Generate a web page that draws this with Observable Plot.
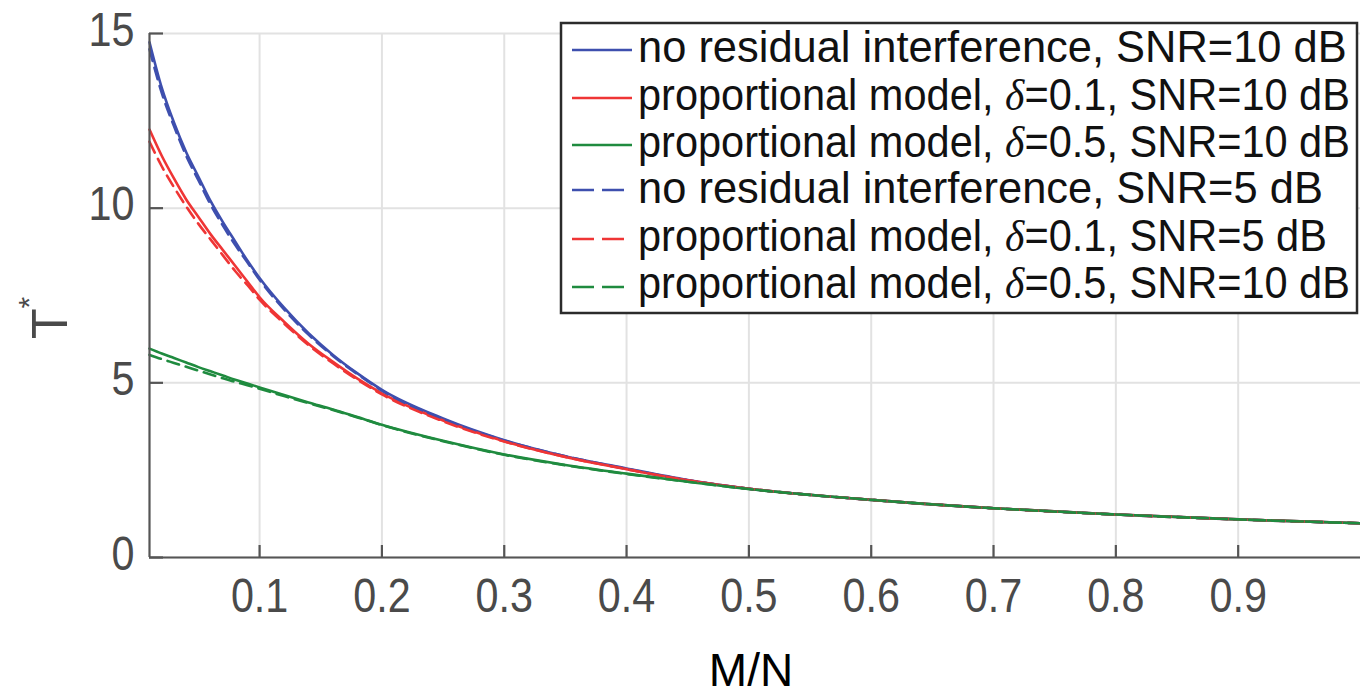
<!DOCTYPE html>
<html><head><meta charset="utf-8">
<script src="https://cdn.jsdelivr.net/npm/d3@7"></script>
<script src="https://cdn.jsdelivr.net/npm/@observablehq/plot@0.6"></script>
<style>
html,body{margin:0;padding:0;background:#fff;}
#wrap{position:relative;width:1360px;height:697px;overflow:hidden;}
#legend{position:absolute;left:0;top:0;}
</style></head><body><div id="wrap"></div>
<script>
// M/N sample points
const mn = [0.01,0.02,0.03,0.04,0.05,0.06,0.07,0.08,0.09,0.1,0.12,0.14,0.16,0.18,0.2,0.25,0.3,0.35,0.4,0.45,0.5,0.6,0.7,0.8,0.9,1.0];
// T* series
const noResid10 = [14.75,13.45,12.45,11.6,10.9,10.2,9.6,9.05,8.5,8.0,7.15,6.42,5.8,5.27,4.8,3.98,3.36,2.9,2.55,2.22,1.97,1.65,1.41,1.23,1.09,0.98];
const prop01_10 = [12.25,11.5,10.85,10.25,9.75,9.25,8.8,8.35,7.9,7.45,6.75,6.12,5.6,5.12,4.7,3.92,3.33,2.88,2.53,2.21,1.97,1.65,1.41,1.23,1.09,0.98];
const prop05_10 = [5.98,5.84,5.71,5.58,5.45,5.33,5.21,5.09,4.98,4.87,4.65,4.44,4.24,4.02,3.8,3.34,2.95,2.65,2.4,2.17,1.96,1.65,1.41,1.23,1.09,0.98];
const noResid5  = [14.55,13.3,12.35,11.5,10.8,10.1,9.5,8.95,8.45,7.95,7.1,6.38,5.77,5.25,4.78,3.96,3.35,2.9,2.54,2.21,1.97,1.65,1.41,1.23,1.09,0.98];
const prop01_5  = [11.9,11.2,10.6,10.05,9.55,9.1,8.65,8.2,7.8,7.38,6.7,6.08,5.56,5.09,4.67,3.9,3.32,2.88,2.53,2.21,1.97,1.65,1.41,1.23,1.09,0.98];
const prop05_5  = [5.8,5.68,5.57,5.46,5.35,5.24,5.13,5.03,4.93,4.83,4.62,4.42,4.22,4.01,3.79,3.33,2.94,2.64,2.39,2.17,1.96,1.65,1.41,1.23,1.09,0.98];

const xTicks = [0.1,0.2,0.3,0.4,0.5,0.6,0.7,0.8,0.9];
const yTicks = [0,5,10,15];

const labels = [
  ["no residual interference, SNR=10 dB"],
  ["proportional model, ", "δ", "=0.1, SNR=10 dB"],
  ["proportional model, ", "δ", "=0.5, SNR=10 dB"],
  ["no residual interference, SNR=5 dB"],
  ["proportional model, ", "δ", "=0.1, SNR=5 dB"],
  ["proportional model, ", "δ", "=0.5, SNR=10 dB"]
];
const colors = ["#3e4fae","#ef3535","#1f8b3f","#3e4fae","#ef3535","#1f8b3f"];
const dashed = [false,false,false,true,true,true];
const seriesValues = [noResid10, prop01_10, prop05_10, noResid5, prop01_5, prop05_5];

const series = seriesValues.map((vals, k) => vals.map((v, i) => ({mn: mn[i], t: v, k})));

const chart = Plot.plot({
  width: 1360, height: 697,
  marginLeft: 149, marginRight: 0, marginTop: 33, marginBottom: 140,
  style: {fontFamily: "'Liberation Sans', Arial, sans-serif", background: "#fff"},
  x: {domain: [0.01, 1]},
  y: {domain: [0, 15]},
  marks: [
    Plot.gridX(xTicks, {stroke: "#e2e2e2", strokeOpacity: 1, strokeWidth: 2}),
    Plot.gridY(yTicks, {stroke: "#e2e2e2", strokeOpacity: 1, strokeWidth: 2}),
    ...series.map((d, k) => Plot.line(d, {
      x: "mn", y: "t", stroke: colors[k], strokeWidth: 2.6,
      strokeDasharray: dashed[k] ? "12,7" : null, curve: "monotone-x"
    })),
    Plot.ruleY([0], {stroke: "#555", strokeWidth: 2.2}),
    Plot.ruleX([0.01], {stroke: "#555", strokeWidth: 2.2}),
    Plot.axisX(xTicks, {tickSize: -12, tickPadding: 32, stroke: "#555", strokeWidth: 2.2,
      fontSize: 48, fill: "#4a4a4a", label: null, tickFormat: d => String(d)}),
    Plot.axisY(yTicks, {tickSize: -14, tickPadding: 29, stroke: "#555", strokeWidth: 2.2,
      fontSize: 48, fill: "#4a4a4a", label: null, tickFormat: d => String(d)})
  ]
});

const wrap = document.getElementById("wrap");
wrap.appendChild(chart);

// condense axis tick labels a little (the original font is narrow)
chart.querySelectorAll('[aria-label="x-axis tick label"] text, [aria-label="y-axis tick label"] text').forEach(t => {
  const L = t.getComputedTextLength();
  t.setAttribute("textLength", L * 0.86);
  t.setAttribute("lengthAdjust", "spacingAndGlyphs");
});
// nudge y tick labels up slightly
chart.querySelectorAll('[aria-label="y-axis tick label"] text').forEach(t => {
  t.setAttribute("y", "12");
});

const svg = d3.select(chart);
// x-axis title
svg.append("text")
  .attr("x", 751).attr("y", 686)
  .attr("text-anchor", "middle")
  .attr("font-family", "'Liberation Sans', Arial, sans-serif")
  .attr("font-size", 46).attr("fill", "#000")
  .text("M/N");
// y-axis title T*
const yt = svg.append("text")
  .attr("transform", "translate(67,318) rotate(-90)")
  .attr("font-family", "'Liberation Sans', Arial, sans-serif")
  .attr("font-size", 50).attr("fill", "#4a4a4a");
yt.append("tspan").text("T");
yt.append("tspan").attr("font-size", 30).attr("dy", -28).text("*");

// legend overlay
const lg = d3.select(wrap).append("svg").attr("id", "legend")
  .attr("width", 1360).attr("height", 697);
lg.append("rect").attr("x", 561).attr("y", 23).attr("width", 796).attr("height", 290)
  .attr("fill", "#fff").attr("stroke", "#2b2b2b").attr("stroke-width", 2.5);
const sampleY = [50, 98, 145, 190, 239, 287];
const baseY = [62, 110, 157, 203, 251, 298];
const rowEnd = [1347, 1350, 1350, 1323, 1327, 1350];
labels.forEach((parts, k) => {
  lg.append("line").attr("x1", 572).attr("x2", 632).attr("y1", sampleY[k]).attr("y2", sampleY[k])
    .attr("stroke", colors[k]).attr("stroke-width", 2.6)
    .attr("stroke-dasharray", dashed[k] ? "22,8" : null);
  const g = lg.append("g");
  const t = g.append("text").attr("x", 0).attr("y", 0)
    .attr("font-family", "'Liberation Sans', Arial, sans-serif")
    .attr("font-size", 45).attr("fill", "#111");
  parts.forEach(p => {
    const ts = t.append("tspan").text(p);
    if (p === "δ") ts.attr("font-style", "italic").attr("font-family", "'Liberation Serif', serif");
  });
  const natural = t.node().getComputedTextLength();
  const sx = (rowEnd[k] - 638) / natural;
  g.attr("transform", `translate(638,${baseY[k]}) scale(${sx},1)`);
});
</script>
</body></html>
